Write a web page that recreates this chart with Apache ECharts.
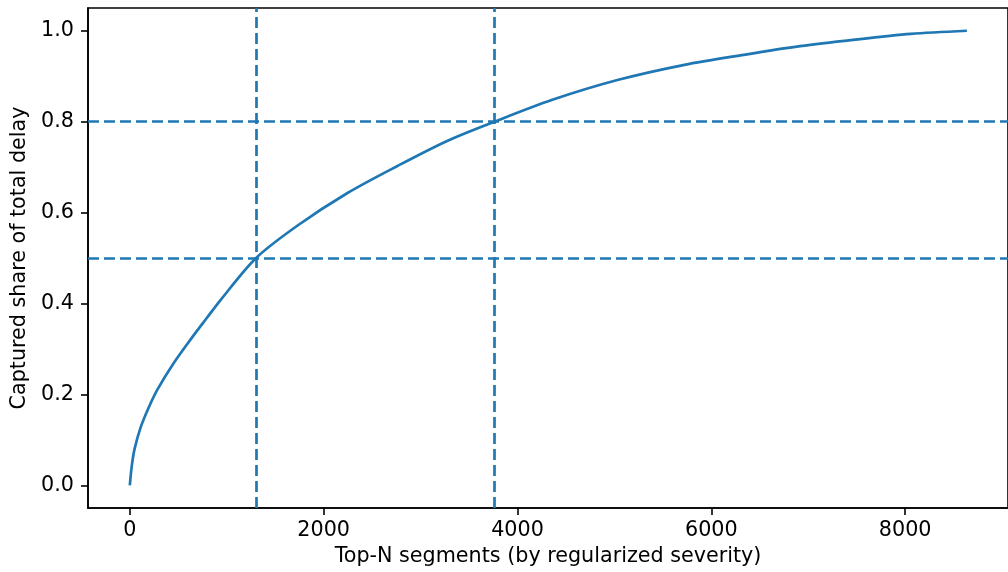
<!DOCTYPE html>
<html>
<head>
<meta charset="utf-8">
<script src="https://cdn.jsdelivr.net/npm/echarts@6/dist/echarts.min.js"></script>
<style>
  html, body { margin: 0; padding: 0; background: #fff; }
  #main { width: 1008px; height: 572px; }
</style>
</head>
<body>
<div id="main"></div>
<script>
// curve (top-N segments vs captured share)
var topN = [0, 20, 48, 116, 201, 286, 457, 628, 798, 934, 1303, 1735, 2246, 2757, 3269, 3765, 4360, 5041, 5723, 6336, 6916, 7464, 8058, 8637];
var share = [0, 0.042, 0.079, 0.13, 0.174, 0.211, 0.27, 0.321, 0.369, 0.407, 0.5, 0.572, 0.643, 0.702, 0.757, 0.8, 0.848, 0.892, 0.925, 0.947, 0.966, 0.98, 0.993, 1.0];

var xTicks = [0, 2000, 4000, 6000, 8000];
var yTicks = [0, 0.2, 0.4, 0.6, 0.8, 1.0];

// dashed reference lines
var vLines = [1303, 3765];
var hLines = [0.5, 0.8];

var blue = '#1f77b4';
var font = 'DejaVu Sans';

var points = [];
for (var i = 0; i < topN.length; i++) {
  points.push([topN[i], share[i]]);
}

var marks = [];
for (var i = 0; i < vLines.length; i++) marks.push({ xAxis: vLines[i] });
for (var i = 0; i < hLines.length; i++) marks.push({ yAxis: hLines[i] });

var dom = document.getElementById('main');
var myChart = echarts.init(dom);

option = {
  animation: false,
  grid: {
    left: 88,
    right: -8,
    top: 8,
    bottom: 64,
    show: true,
    borderColor: '#000',
    borderWidth: 1.6
  },
  xAxis: {
    type: 'value',
    min: -431.5,
    max: 9061.5,
    name: 'Top-N segments (by regularized severity)',
    nameLocation: 'middle',
    nameGap: 38,
    nameTextStyle: { fontFamily: font, fontSize: 20.7, color: '#000' },
    splitLine: { show: false },
    axisLine: { onZero: false, lineStyle: { color: '#000', width: 1.6 } },
    axisTick: { length: 7, lineStyle: { color: '#000', width: 1.6 }, customValues: xTicks },
    axisLabel: {
      margin: 12, fontFamily: font, fontSize: 20.7, color: '#000', customValues: xTicks,
      formatter: function (v) { return String(v); }
    }
  },
  yAxis: {
    type: 'value',
    min: -0.05,
    max: 1.05,
    name: 'Captured share of total delay',
    nameLocation: 'middle',
    nameGap: 51,
    nameTextStyle: { fontFamily: font, fontSize: 20.7, color: '#000' },
    splitLine: { show: false },
    axisLine: { show: true, onZero: false, lineStyle: { color: '#000', width: 1.6 } },
    axisTick: { show: true, length: 7, lineStyle: { color: '#000', width: 1.6 }, customValues: yTicks },
    axisLabel: {
      margin: 14, fontFamily: font, fontSize: 20.7, color: '#000', customValues: yTicks,
      formatter: function (v) { return v.toFixed(1); }
    }
  },
  series: [{
    type: 'line',
    data: points,
    smooth: 0.3,
    showSymbol: false,
    lineStyle: { color: blue, width: 2.7 },
    markLine: {
      silent: true,
      symbol: 'none',
      label: { show: false },
      lineStyle: { color: blue, width: 2.7, type: [11, 5] },
      data: marks
    }
  }]
};

myChart.setOption(option);
</script>
</body>
</html>
